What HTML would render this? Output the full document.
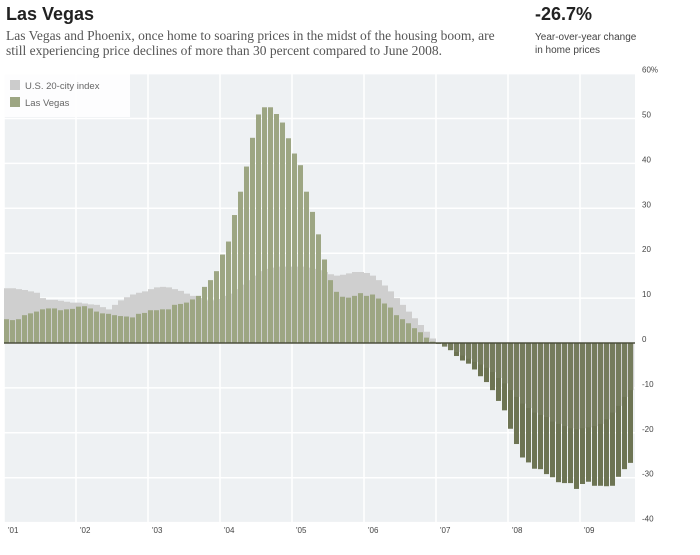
<!DOCTYPE html>
<html><head><meta charset="utf-8"><style>
body{margin:0;background:#fff;width:700px;height:555px;overflow:hidden;font-family:"Liberation Sans",sans-serif}
#title{position:absolute;left:6px;top:4px;font-size:18px;font-weight:bold;color:#222}
#sub{position:absolute;left:6px;top:28px;font-family:"Liberation Serif",serif;font-size:13.5px;line-height:15px;color:#555;width:508px}
#big{position:absolute;left:535px;top:4px;font-size:18px;font-weight:bold;color:#222}
#unit{position:absolute;left:535px;top:31px;font-size:10px;line-height:13px;color:#444}
svg{position:absolute;left:0;top:0}
</style></head><body>
<div id="title">Las Vegas</div>
<div id="sub">Las Vegas and Phoenix, once home to soaring prices in the midst of the housing boom, are still experiencing price declines of more than 30 percent compared to June 2008.</div>
<div id="big">-26.7%</div>
<div id="unit">Year-over-year change<br>in home prices</div>
<svg id="chart" width="700" height="555"></svg>
<script>
const years=["'01","'02","'03","'04","'05","'06","'07","'08","'09"];
const yTicks=[60,50,40,30,20,10,0,-10,-20,-30,-40];
const lasVegas=[5.3,5.1,5.3,6.2,6.6,7.0,7.5,7.7,7.7,7.3,7.5,7.6,
8.1,8.2,7.7,7.0,6.6,6.5,6.2,6.0,5.9,5.7,6.5,6.7,
7.3,7.3,7.5,7.5,8.5,8.7,9.0,9.7,10.5,12.5,14.0,16.0,
19.7,22.6,28.5,33.7,39.3,45.7,50.9,52.5,52.5,51.0,49.1,45.6,
42.2,39.6,33.7,29.2,24.2,18.6,14.0,11.4,10.3,10.1,10.5,11.1,
10.5,10.8,9.9,8.8,7.9,6.2,5.3,4.4,3.3,2.4,1.2,0.3,
-0.2,-0.8,-1.6,-2.9,-3.9,-4.6,-5.9,-7.4,-8.7,-10.5,-12.9,-15.0,
-19.1,-22.5,-25.5,-26.6,-28,-28.1,-29.2,-29.9,-31,-31.2,-31.2,-32.5,
-31.4,-30.9,-31.8,-31.8,-31.9,-31.8,-29.8,-28.1,-26.7];
const usIndex=[12.2,12.2,12,11.8,11.5,11.2,10,9.6,9.6,9.4,9.2,9.0,
9,8.8,8.6,8.5,8,7.5,8.5,9.5,10.2,10.8,11.2,11.5,
12,12.4,12.5,12.4,12,11.6,11,10.5,10,9.5,9.5,9.8,
10.5,11,12,13,14,15,16,16.5,16.8,17,17,17,
17,17,16.8,16.5,16.2,15.8,15.3,15,15.2,15.5,15.8,15.8,
15.6,15,14,12.8,11.5,10,8.5,7,5.5,4,2.5,1,
0,-0.8,-1.5,-2,-2.8,-3.5,-4.2,-4.8,-5.5,-6.5,-7.8,-9,
-10.5,-12,-13.5,-14.5,-15.5,-16,-16.5,-17.5,-18,-18.5,-19,-19.2,
-19,-18.8,-18.5,-18,-17,-15.5,-14,-12,-10.5];
const svg=document.getElementById('chart');
const NS='http://www.w3.org/2000/svg';
const X0=4,MW=6,PL=4,PR=635,PT=73;
const xm=m=>X0+m*MW;
const y=v=>343-v*4.49;
function mk(t,a){const e=document.createElementNS(NS,t);for(const k in a)e.setAttribute(k,a[k]);svg.appendChild(e);return e;}
let bg=mk('rect',{x:PL,y:PT,width:PR-PL,height:y(-40)-PT,fill:'#eef1f3'});


yTicks.forEach((t,i)=>{
 let g=mk('line',{x1:PL,x2:PR,y1:y(t),y2:y(t),stroke:'#fff','stroke-width':1.5});
 
 
 let l=mk('text',{x:642,y:y(t)-1,'font-size':8,fill:'#444'});
 l.textContent=i==0?t+'%':t;
 
 
});
years.forEach((yr,i)=>{
 let g=mk('line',{x1:xm(i*12),x2:xm(i*12),y1:PT,y2:y(-40),stroke:'#fff','stroke-width':1.5});
 
 
 let l=mk('text',{x:xm(i*12)+4,y:533,'font-size':8,fill:'#444'});
 l.textContent=yr;
 
 
});
let d='M'+xm(0)+','+y(0);
usIndex.forEach((v,m)=>{d+=' L'+xm(m)+','+y(v)+' L'+xm(m+1)+','+y(v);});
d+=' L'+xm(usIndex.length)+','+y(0)+' Z';
let us=mk('path',{d:d,fill:'#cfcfcf'});


lasVegas.forEach((v,m)=>{
 const top=Math.min(y(v),y(0)),h=Math.abs(y(v)-y(0));
 let b=mk('rect',{x:xm(m),y:top,width:MW-1,height:h,fill:v>=0?'#9da683':'#6d7453'});
 
 
});
let d2='M'+xm(0)+','+y(0);
usIndex.forEach((v,m)=>{const vv=Math.min(v,0);d2+=' L'+xm(m)+','+y(vv)+' L'+xm(m+1)+','+y(vv);});
d2+=' L'+xm(usIndex.length)+','+y(0)+' Z';
let ov=mk('path',{d:d2,fill:'#ffffff',opacity:0.06});


let z=mk('line',{x1:PL,x2:PR,y1:y(0),y2:y(0),stroke:'#4b4f3c','stroke-width':1.5});


let lg=mk('rect',{x:4,y:74,width:126,height:43,fill:'#fff',opacity:0.85});


[['U.S. 20-city index','#cccccc',87],['Las Vegas','#9da683',104]].forEach(([t,c,yy])=>{
 let s=mk('rect',{x:10,y:yy-7,width:10,height:10,fill:c});
 
 
 let l=mk('text',{x:25,y:yy+2,'font-size':9.5,fill:'#666'});
 l.textContent=t;
 
 
});
</script>
</body></html>
